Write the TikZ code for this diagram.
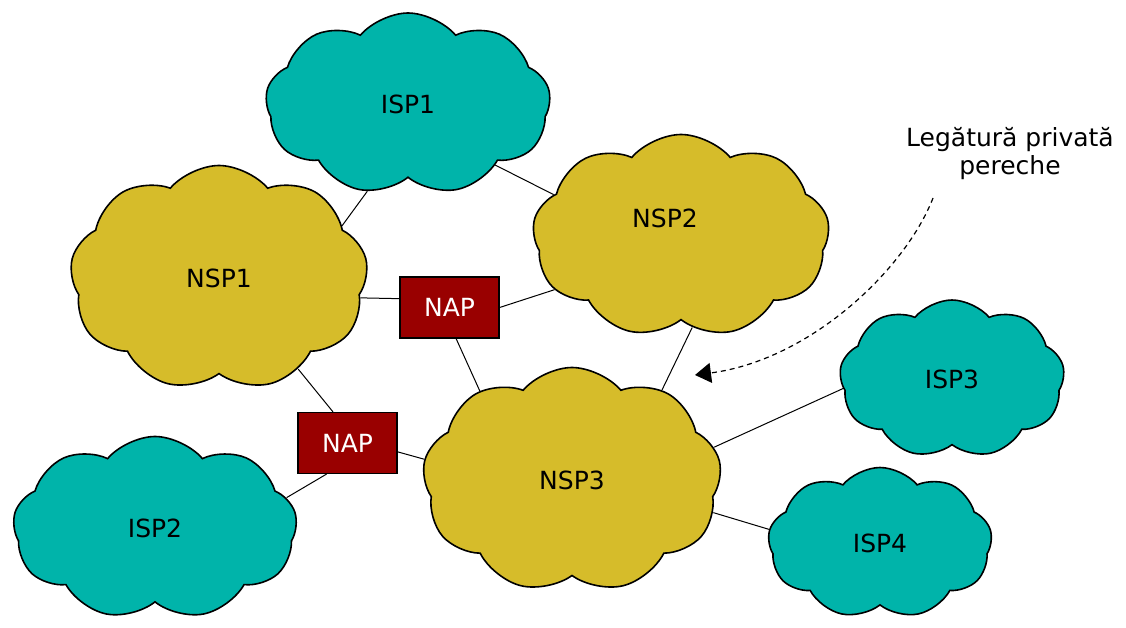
\documentclass[tikz,border=0pt]{standalone}
\usepackage{fontspec}
\setmainfont{DejaVu Sans}
\usepackage{xcolor}
\usetikzlibrary{shapes.symbols,arrows.meta}
\definecolor{ispteal}{RGB}{0,180,170}
\definecolor{nspgold}{RGB}{214,188,42}
\definecolor{napred}{RGB}{153,0,0}
\tikzset{
    big-text/.style = {font=\fontsize{25}{28}\selectfont},
    net-cloud/.style = {draw=black, line width=1.6pt, cloud, cloud puffs=9, cloud puff arc=100, cloud ignores aspect, inner sep=0pt, big-text},
    isp-cloud/.style = {net-cloud, fill=ispteal},
    nsp-cloud/.style = {net-cloud, fill=nspgold},
    nap-box/.style = {draw=black, fill=napred, text=white, line width=1.2pt, rectangle, minimum width=99pt, minimum height=61pt, inner sep=0pt, big-text},
    link-line/.style = {draw=black, line width=1pt},
    peer-arrow/.style = {draw=black, line width=1.2pt, dash pattern=on 5pt off 4pt, -{Triangle[length=16pt,width=20pt]}},
}

\begin{document}
\begin{tikzpicture}[x=1pt,y=-1pt]
\useasboundingbox (0,0) rectangle (1126,628);
\node[isp-cloud, minimum width=285pt, minimum height=182pt] (isp1) at (408,104) {ISP1};
\node[nsp-cloud, minimum width=298pt, minimum height=225pt] (nsp1) at (219,278) {NSP1};
\node[nsp-cloud, minimum width=297pt, minimum height=203pt, label={[big-text, xshift=-16pt, yshift=18pt]center:NSP2}] (nsp2) at (681,236) {};
\node[nsp-cloud, minimum width=299pt, minimum height=225pt] (nsp3) at (572,480) {NSP3};
\node[isp-cloud, minimum width=284pt, minimum height=183pt] (isp2) at (155,528) {ISP2};
\node[isp-cloud, minimum width=225pt, minimum height=158pt] (isp3) at (952,379) {ISP3};
\node[isp-cloud, minimum width=224pt, minimum height=151pt] (isp4) at (880,543) {ISP4};
\node[nap-box] (nap1) at (449.5,307.5) {NAP};
\node[nap-box] (nap2) at (347.5,443) {NAP};
\node[big-text, align=center] (peer-label) at (1010,154) {Legătură privată\\pereche};
\coordinate (peer-start) at (933,198);
\coordinate (peer-end) at (695,375);

\draw[link-line] (isp1.245) -- (nsp1.23);
\draw[link-line] (isp1.325) -- (nsp2.162);
\draw[link-line] (nsp1.352) -- (nap1.170);
\draw[link-line] (nap1.east) -- (nsp2.203);
\draw[link-line] (nap1.282) -- (nsp3.136);
\draw[link-line] (nsp1.311) -- (nap2.115);
\draw[link-line] (nap2.350) -- (nsp3.172);
\draw[link-line] (nap2.236) -- (isp2.13);
\draw[link-line] (nsp2.277) -- (nsp3.45);
\draw[link-line] (nsp3.13) -- (isp3.185);
\draw[link-line] (nsp3.347) -- (isp4.173);
\draw[peer-arrow] (peer-start) .. controls (905,270) and (810,360) .. (peer-end);
\end{tikzpicture}
\end{document}
